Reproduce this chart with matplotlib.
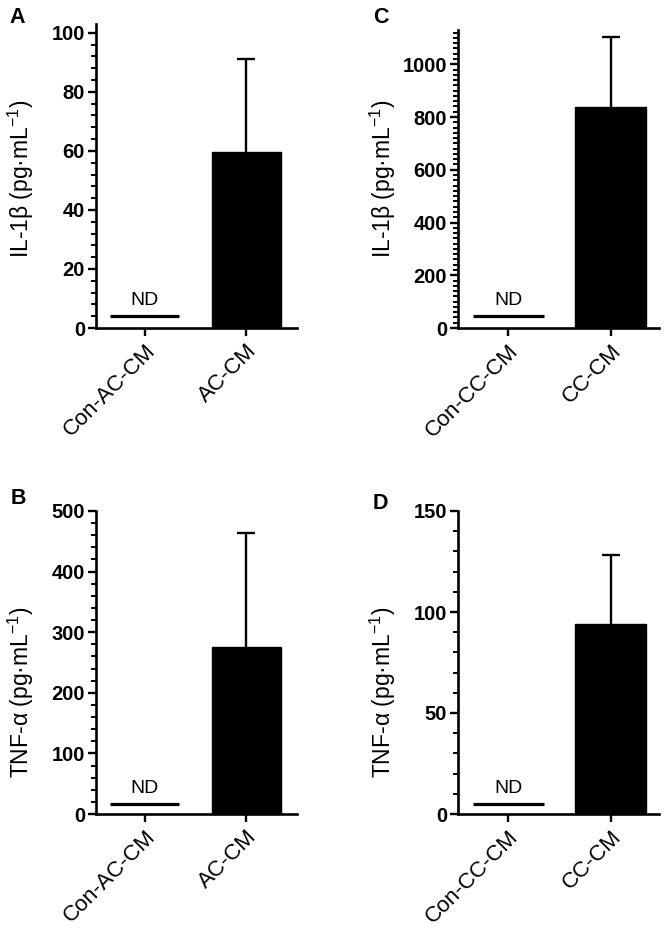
import matplotlib
matplotlib.use("Agg")
import matplotlib.pyplot as plt
from matplotlib.ticker import MultipleLocator

plt.rcParams['font.family'] = ['Liberation Sans', 'DejaVu Sans']
plt.rcParams['mathtext.fontset'] = 'custom'
plt.rcParams['mathtext.rm'] = 'Liberation Sans'
plt.rcParams['mathtext.it'] = 'Liberation Sans:italic'
plt.rcParams['mathtext.bf'] = 'Liberation Sans:bold'

# data
cats_ac = ["Con-AC-CM", "AC-CM"]
cats_cc = ["Con-CC-CM", "CC-CM"]

il1b_ac_mean = [0, 59.5]
il1b_ac_sd = [0, 31.5]
il1b_ac_nd = 4

tnf_ac_mean = [0, 275]
tnf_ac_sd = [0, 189]
tnf_ac_nd = 17

il1b_cc_mean = [0, 838]
il1b_cc_sd = [0, 267]
il1b_cc_nd = 45

tnf_cc_mean = [0, 94]
tnf_cc_sd = [0, 34]
tnf_cc_nd = 5

lab_il1b = "IL-1\u03b2 (pg\u00b7mL$^{-1}$)"
lab_tnf = "TNF-\u03b1 (pg\u00b7mL$^{-1}$)"

W, H = 668, 944
fig = plt.figure(figsize=(W / 100, H / 100), dpi=100)


def panel(rect_px, cats, means, sds, nd, ylim, major, minor, ylabel, label_y,
          letter, letter_xy, xlim, bw):
    l, r, top, bot = rect_px
    ax = fig.add_axes([l / W, 1 - bot / H, (r - l) / W, (bot - top) / H])
    x = list(range(len(cats)))
    # only the measured group gets a bar; the control is "ND"
    ax.bar(x[1], means[1], width=bw, color='black', edgecolor='black', zorder=2)
    # symmetric error bar, lower half hidden behind the bar
    ax.errorbar(x[1], means[1], yerr=sds[1], fmt='none', ecolor='black',
                elinewidth=1.7, capsize=6.8, capthick=1.7, zorder=1)
    ax.hlines(nd, x[0] - bw / 2, x[0] + bw / 2, color='black', lw=2.3)
    ax.annotate("ND", (x[0], nd), xytext=(0, 5), textcoords='offset points',
                ha='center', va='bottom', fontsize=14)
    ax.set_xlim(*xlim)
    ax.set_ylim(*ylim)
    ax.set_xticks(x)
    ax.set_xticklabels(cats, rotation=45, ha='right', rotation_mode='anchor', fontsize=16)
    ax.yaxis.set_major_locator(MultipleLocator(major))
    ax.yaxis.set_minor_locator(MultipleLocator(minor))
    for lbl in ax.get_yticklabels():
        lbl.set_fontweight('bold')
        lbl.set_fontsize(14.5)
    ax.tick_params(axis='y', which='major', direction='out', length=6, width=1.7, pad=2)
    ax.tick_params(axis='y', which='minor', direction='out', length=3.5, width=1.4)
    ax.tick_params(axis='x', which='major', direction='out', length=6, width=1.7, pad=3)
    ax.tick_params(axis='x', which='minor', bottom=False)
    for s in ['top', 'right']:
        ax.spines[s].set_visible(False)
    for s in ['left', 'bottom']:
        ax.spines[s].set_linewidth(1.9)
    ax.set_ylabel(ylabel, fontsize=16.5)
    ax.yaxis.set_label_coords(-0.30, label_y)
    fig.text(letter_xy[0] / W, 1 - letter_xy[1] / H, letter, fontsize=15.5,
             fontweight='bold', ha='left', va='top')
    return ax


panel((96, 297, 24, 328), cats_ac, il1b_ac_mean, il1b_ac_sd, il1b_ac_nd,
      (0, 103), 20, 4, lab_il1b, 0.49, "A", (9, 7), (-0.48, 1.5), 0.68)
panel((458, 659, 30, 328), cats_cc, il1b_cc_mean, il1b_cc_sd, il1b_cc_nd,
      (0, 1130), 200, 20, lab_il1b, 0.5, "C", (373, 7), (-0.49, 1.47), 0.69)
panel((96, 297, 511, 814), cats_ac, tnf_ac_mean, tnf_ac_sd, tnf_ac_nd,
      (0, 500), 100, 20, lab_tnf, 0.40, "B", (11, 488), (-0.48, 1.5), 0.68)
panel((458, 659, 511, 814), cats_cc, tnf_cc_mean, tnf_cc_sd, tnf_cc_nd,
      (0, 150), 50, 10, lab_tnf, 0.40, "D", (373, 493), (-0.49, 1.47), 0.69)

fig.savefig("out.png", dpi=100)
